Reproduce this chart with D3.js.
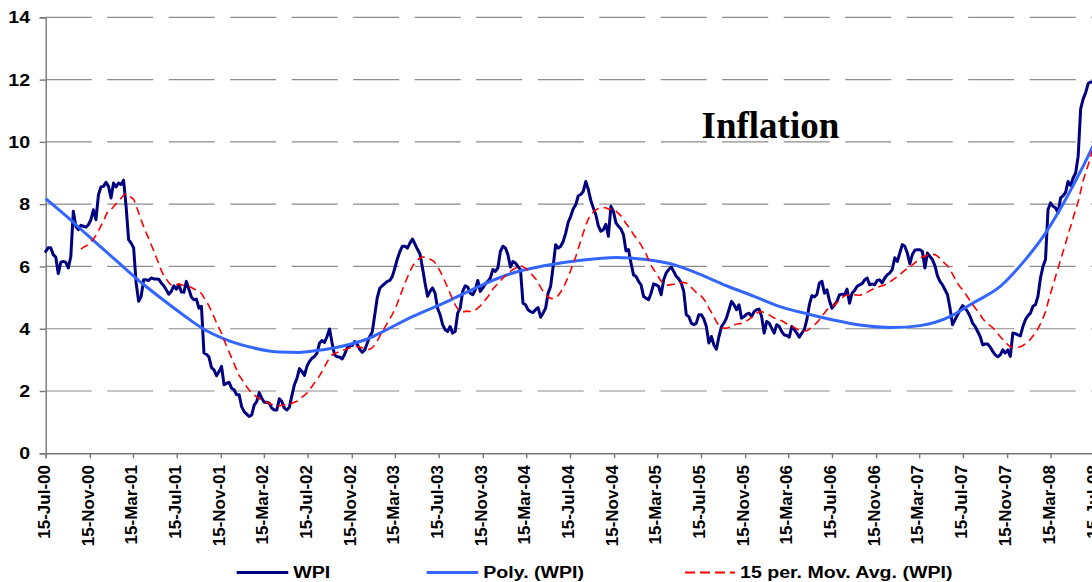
<!DOCTYPE html>
<html>
<head>
<meta charset="utf-8">
<script src="https://cdn.jsdelivr.net/npm/d3@7"></script>
<style>
  html, body { margin: 0; padding: 0; background: #ffffff; }
  svg { display: block; }
</style>
</head>
<body>
<svg id="chart" width="1092" height="582"></svg>
<script>
// ---------------- DATA ----------------
const titleText = "Inflation";
const seriesNames = ["WPI", "Poly. (WPI)", "15 per. Mov. Avg. (WPI)"];

// Weekly WPI inflation (%), one value per week starting at wpiStart
const wpiStart = "2000-07-15";
const wpiValues = [
  6.48, 6.6, 6.6, 6.38, 6.3, 5.77, 6.13, 6.16, 6.13, 5.95,
  6.32, 7.77, 7.29, 7.18, 7.32, 7.29, 7.26, 7.34, 7.5, 7.82,
  7.5, 8.3, 8.55, 8.57, 8.7, 8.57, 8.2, 8.68, 8.55, 8.68,
  8.63, 8.77, 7.93, 6.86, 6.75, 6.6, 5.47, 4.88, 5.04, 5.57,
  5.57, 5.55, 5.63, 5.6, 5.6, 5.59, 5.47, 5.38, 5.25, 5.11,
  5.2, 5.38, 5.27, 5.41, 5.18, 5.17, 5.52, 5.27, 5.02, 4.93,
  4.95, 4.66, 4.72, 3.22, 3.18, 3.09, 2.75, 2.68, 2.49, 2.63,
  2.79, 2.2, 2.25, 2.28, 2.09, 2.04, 1.88, 1.88, 1.5, 1.34,
  1.26, 1.18, 1.23, 1.55, 1.66, 1.95, 1.77, 1.64, 1.64, 1.61,
  1.45, 1.39, 1.39, 1.75, 1.66, 1.45, 1.39, 1.48, 1.85, 2.2,
  2.4, 2.72, 2.63, 2.5, 2.79, 2.95, 3.05, 3.11, 3.22, 3.54,
  3.62, 3.56, 3.75, 3.99, 3.54, 3.16, 3.1, 3.09, 3.03, 3.18,
  3.38, 3.46, 3.45, 3.59, 3.51, 3.34, 3.24, 3.32, 3.54, 3.75,
  3.9, 4.45, 5.0, 5.3, 5.38, 5.45, 5.52, 5.55, 5.68, 5.95,
  6.24, 6.48, 6.65, 6.65, 6.59, 6.75, 6.88, 6.72, 6.55, 6.4,
  5.95, 5.47, 5.04, 5.2, 5.31, 5.14, 4.66, 4.45, 4.13, 3.97,
  3.91, 4.07, 3.86, 3.91, 4.5, 4.66, 5.2, 5.38, 5.34, 5.14,
  5.09, 5.25, 5.55, 5.2, 5.31, 5.44, 5.52, 5.63, 5.9, 5.84,
  5.95, 6.48, 6.65, 6.59, 6.38, 5.98, 6.16, 6.11, 6.0, 5.9,
  4.82, 4.77, 4.61, 4.55, 4.52, 4.61, 4.68, 4.37, 4.5, 4.66,
  5.14, 5.36, 6.0, 6.7, 6.59, 6.65, 6.8, 7.07, 7.42, 7.61,
  7.85, 7.98, 8.27, 8.31, 8.41, 8.73, 8.47, 8.12, 7.88, 7.66,
  7.3, 7.13, 7.18, 7.35, 6.97, 7.93, 7.77, 7.4, 7.29, 7.2,
  7.02, 6.5, 6.54, 6.11, 5.73, 5.68, 5.52, 5.41, 5.04, 4.98,
  4.93, 5.14, 5.44, 5.41, 5.36, 5.09, 5.57, 5.79, 5.9, 5.98,
  5.84, 5.68, 5.6, 5.47, 5.2, 4.45, 4.39, 4.18, 4.13, 4.18,
  4.45, 4.45, 4.31, 4.07, 3.54, 3.75, 3.48, 3.34, 3.75, 4.07,
  4.18, 4.34, 4.61, 4.88, 4.77, 4.61, 4.77, 4.34, 4.39, 4.47,
  4.5, 4.39, 4.55, 4.61, 4.63, 4.39, 3.86, 4.23, 4.18, 4.02,
  3.86, 4.13, 4.07, 3.91, 3.8, 3.78, 3.73, 4.07, 3.97, 3.86,
  3.73, 3.86, 3.97, 4.29, 4.77, 5.06, 5.02, 5.1, 5.47, 5.52,
  5.14, 5.25, 4.9, 4.66, 4.77, 4.88, 5.09, 5.11, 5.09, 5.27,
  4.82, 5.14, 5.23, 5.36, 5.41, 5.45, 5.57, 5.63, 5.41, 5.44,
  5.41, 5.55, 5.57, 5.47, 5.63, 5.73, 5.79, 5.9, 6.28, 6.16,
  6.43, 6.7, 6.65, 6.43, 6.09, 6.38, 6.52, 6.54, 6.54, 6.48,
  5.95, 6.43, 6.32, 6.22, 6.02, 5.7, 5.52, 5.41, 5.25, 5.09,
  4.66, 4.13, 4.29, 4.45, 4.61, 4.74, 4.66, 4.55, 4.39, 4.18,
  4.07, 3.91, 3.75, 3.48, 3.51, 3.51, 3.41, 3.27, 3.16, 3.1,
  3.16, 3.32, 3.22, 3.32, 3.11, 3.86, 3.84, 3.8, 3.77, 4.07,
  4.29, 4.42, 4.5, 4.72, 4.77, 5.04, 5.63, 6.0, 6.22, 7.82,
  8.04, 7.93, 7.88, 7.72, 8.2, 8.27, 8.38, 8.73, 8.6, 8.84,
  9.0, 9.54, 11.06, 11.38, 11.58, 11.88, 11.92, 11.92
];

// Polynomial trend line, week index -> value
const polyWeeks  = [0, 8, 16, 22, 29, 39, 48, 56, 62, 72, 83, 93, 101, 107, 120, 128, 133, 146, 160, 173, 186, 199, 213, 227, 239, 250, 260, 271, 282, 292, 303, 314, 324, 337, 348, 360, 369, 380, 390, 398, 406, 413, 417];
const polyValues = [8.18, 7.63, 7.05, 6.62, 6.12, 5.42, 4.85, 4.37, 4.03, 3.64, 3.38, 3.25, 3.24, 3.29, 3.48, 3.67, 3.86, 4.39, 4.88, 5.38, 5.79, 6.03, 6.2, 6.29, 6.22, 6.06, 5.76, 5.38, 5.04, 4.72, 4.48, 4.27, 4.12, 4.04, 4.1, 4.39, 4.82, 5.36, 6.22, 7.07, 8.15, 9.22, 9.88];

const maPeriod = 15;

const xTickLabels = ["15-Jul-00","15-Nov-00","15-Mar-01","15-Jul-01","15-Nov-01","15-Mar-02","15-Jul-02",
  "15-Nov-02","15-Mar-03","15-Jul-03","15-Nov-03","15-Mar-04","15-Jul-04","15-Nov-04","15-Mar-05",
  "15-Jul-05","15-Nov-05","15-Mar-06","15-Jul-06","15-Nov-06","15-Mar-07","15-Jul-07","15-Nov-07",
  "15-Mar-08","15-Jul-08"];
const yTicks = [0, 2, 4, 6, 8, 10, 12, 14];

// ---------------- CHART ----------------
const svg = d3.select("#chart");
const W = 1092, H = 582;
const m = { left: 45.7, top: 17.3, bottom: 453.3, right: 1094.3 };

const parseISO = d3.timeParse("%Y-%m-%d");
const parseTick = d3.timeParse("%d-%b-%y");
const startDate = parseISO(wpiStart);
const weekDate = w => d3.timeDay.offset(startDate, 7 * w);

const x = d3.scaleTime()
  .domain([parseTick(xTickLabels[0]), parseTick(xTickLabels[xTickLabels.length - 1])])
  .range([m.left, m.right]);
const y = d3.scaleLinear().domain([0, 14]).range([m.bottom, m.top]);

const FONT = "'Liberation Sans', Arial, sans-serif";
const COL_WPI = "#000080", COL_POLY = "#3366FF", COL_MA = "#FF0000";

// gridlines
svg.append("g").selectAll("line")
  .data(yTicks.filter(d => d > 0))
  .join("line")
  .attr("x1", m.left).attr("x2", W)
  .attr("y1", d => y(d)).attr("y2", d => y(d))
  .attr("stroke", "#8c8c8c").attr("stroke-width", 1.2)
  .attr("stroke-dasharray", "46,15.5");

// axes
const yAxis = d3.axisLeft(y).tickValues(yTicks).tickSize(6).tickFormat(d3.format("d"));
const gy = svg.append("g").attr("transform", `translate(${m.left},0)`).call(yAxis);
gy.select(".domain").attr("stroke", "#777").attr("stroke-width", 1.4);
gy.selectAll(".tick line").attr("stroke", "#777").attr("stroke-width", 1.4);
gy.selectAll(".tick text").remove();

const tickDates = xTickLabels.map(parseTick);
const xAxis = d3.axisBottom(x).tickValues(tickDates).tickSize(5).tickFormat(() => "");
const gx = svg.append("g").attr("transform", `translate(0,${m.bottom})`).call(xAxis);
gx.select(".domain").attr("stroke", "#777").attr("stroke-width", 1.4);
gx.selectAll(".tick line").attr("stroke", "#777").attr("stroke-width", 1.4);
gx.selectAll(".tick text").remove();

// y tick labels
svg.append("g").selectAll("text")
  .data(yTicks)
  .join("text")
  .attr("transform", d => `translate(30,${y(d)}) scale(1.15,1)`)
  .attr("text-anchor", "end")
  .attr("dy", "0.36em")
  .attr("font-family", FONT).attr("font-weight", "bold").attr("font-size", 17)
  .attr("fill", "#000")
  .text(d => d);

// x tick labels (rotated)
svg.append("g").selectAll("text")
  .data(xTickLabels)
  .join("text")
  .attr("transform", d => `translate(${x(parseTick(d)) + 4.2},465) rotate(-90)`)
  .attr("text-anchor", "end")
  .attr("font-family", FONT).attr("font-weight", "bold").attr("font-size", 17)
  .attr("fill", "#000")
  .text(d => d);

// series data
const wpi = wpiValues.map((v, i) => ({ date: weekDate(i), value: v }));
const ma = [];
for (let i = maPeriod - 1; i < wpi.length; i++) {
  const mean = d3.mean(wpiValues.slice(i - maPeriod + 1, i + 1));
  ma.push({ date: wpi[i].date, value: mean });
}
const poly = polyWeeks.map((w, i) => ({ date: weekDate(w), value: polyValues[i] }));

const plot = svg.append("g");

plot.append("path")
  .datum(wpi)
  .attr("fill", "none").attr("stroke", COL_WPI).attr("stroke-width", 3)
  .attr("stroke-linejoin", "round").attr("stroke-linecap", "round")
  .attr("d", d3.line().x(d => x(d.date)).y(d => y(d.value)));

plot.append("path")
  .datum(poly)
  .attr("fill", "none").attr("stroke", COL_POLY).attr("stroke-width", 3)
  .attr("d", d3.line().curve(d3.curveMonotoneX).x(d => x(d.date)).y(d => y(d.value)));

plot.append("path")
  .datum(ma)
  .attr("fill", "none").attr("stroke", COL_MA).attr("stroke-width", 1.6)
  .attr("stroke-dasharray", "8,5")
  .attr("d", d3.line().x(d => x(d.date)).y(d => y(d.value)));

// title
svg.append("text")
  .attr("x", 701.5).attr("y", 137.7)
  .attr("font-family", "'Liberation Serif', 'Times New Roman', serif")
  .attr("font-weight", "bold").attr("font-size", 37)
  .attr("fill", "#000")
  .text(titleText);

// legend
const legendItems = [
  { name: seriesNames[0], color: COL_WPI, dash: null, width: 3, x1: 236.7, x2: 288.3, tx: 293.3 },
  { name: seriesNames[1], color: COL_POLY, dash: null, width: 3, x1: 426.7, x2: 478.3, tx: 483.3 },
  { name: seriesNames[2], color: COL_MA, dash: "10,5", width: 2, x1: 685, x2: 735, tx: 740 }
];
const lg = svg.append("g").selectAll("g").data(legendItems).join("g");
lg.append("line")
  .attr("x1", d => d.x1).attr("x2", d => d.x2)
  .attr("y1", 572.5).attr("y2", 572.5)
  .attr("stroke", d => d.color).attr("stroke-width", d => d.width)
  .attr("stroke-dasharray", d => d.dash);
lg.append("text")
  .attr("transform", d => `translate(${d.tx},578.3) scale(1.18,1)`)
  .attr("font-family", FONT).attr("font-weight", "bold").attr("font-size", 16.6)
  .attr("fill", "#000")
  .text(d => d.name);
</script>
</body>
</html>
